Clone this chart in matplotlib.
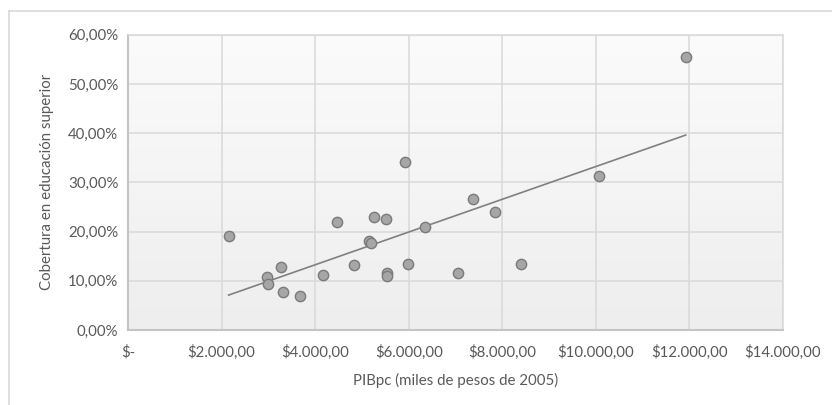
import numpy as np
import matplotlib
matplotlib.use("Agg")
import matplotlib.pyplot as plt
from matplotlib.ticker import FuncFormatter
from matplotlib.lines import Line2D
from matplotlib.colors import LinearSegmentedColormap

# Data (PIBpc in pesos of 2005, coverage in %)
pib = [2150, 2980, 2990, 3280, 3310, 3680, 4170, 4470, 4840, 5150, 5200, 5250,
       5520, 5530, 5530, 5910, 5990, 6340, 7050, 7380, 7840, 8400, 10070, 11920]
cobertura = [19.2, 10.7, 9.4, 12.8, 7.8, 6.85, 11.2, 21.9, 13.2, 18.1, 17.7, 22.9,
             22.5, 11.6, 11.0, 34.1, 13.4, 21.0, 11.5, 26.7, 24.0, 13.35, 31.2, 55.5]
x_ticks = [0, 2000, 4000, 6000, 8000, 10000, 12000, 14000]
y_ticks = [0, 10, 20, 30, 40, 50, 60]
x_label = "PIBpc (miles de pesos de 2005)"
y_label = "Cobertura en educación superior"

plt.rcParams['font.family'] = ['Lato', 'DejaVu Sans']

fig = plt.figure(figsize=(8.32, 4.05), dpi=100)
ax = fig.add_axes([128/832, 1-330/405, (783-128)/832, (330-34.7)/405])

x = np.array(pib, dtype=float)
y = np.array(cobertura, dtype=float)

ax.set_xlim(x_ticks[0], x_ticks[-1])
ax.set_ylim(y_ticks[0], y_ticks[-1])

# gradient background
grad = np.linspace(0, 1, 256).reshape(-1, 1)
cmap = LinearSegmentedColormap.from_list("bg", ["#fbfbfb", "#eeeeee"])
ax.imshow(grad, extent=[0, 1, 0, 1], transform=ax.transAxes, cmap=cmap,
          aspect='auto', zorder=0, origin='upper')

ax.set_xticks(x_ticks)
ax.set_yticks(y_ticks)
ax.grid(True, color="#d9d9d9", linewidth=1.1, zorder=1)
ax.set_axisbelow(True)

def xfmt(v, pos):
    if v == 0:
        return "$-"
    s = f"{v:,.2f}"
    s = s.replace(",", "X").replace(".", ",").replace("X", ".")
    return "$" + s

def yfmt(v, pos):
    return f"{v:.2f}".replace(".", ",") + "%"

fs = 10.8
ax.xaxis.set_major_formatter(FuncFormatter(xfmt))
ax.yaxis.set_major_formatter(FuncFormatter(yfmt))
ax.tick_params(length=0, labelsize=fs, colors="#595959", pad=7)
ax.tick_params(axis='x', pad=11)

for side in ["top", "right"]:
    ax.spines[side].set_color("#d9d9d9")
    ax.spines[side].set_linewidth(1.1)
for side in ["left", "bottom"]:
    ax.spines[side].set_color("#c4c4c4")
    ax.spines[side].set_linewidth(1.5)

# trend line
m, b = np.polyfit(x, y, 1)
xs = np.array([x.min(), x.max()])
ax.plot(xs, m * xs + b, color="#808080", linewidth=1.2, zorder=3)

ax.scatter(x, y, s=55, color="#a6a6a6", edgecolor="#7a7a7a", linewidth=1.0, zorder=4)

ax.set_xlabel(x_label, fontsize=fs, color="#595959", labelpad=9)
ax.set_ylabel(y_label, fontsize=fs, color="#595959", labelpad=10)

# chart frame
fig.add_artist(Line2D([9/832, 1], [1-11/405, 1-11/405], color="#d9d9d9", linewidth=1.2))
fig.add_artist(Line2D([9/832, 9/832], [0, 1-11/405], color="#d9d9d9", linewidth=1.2))

fig.savefig("out.png", dpi=100, facecolor="white")
